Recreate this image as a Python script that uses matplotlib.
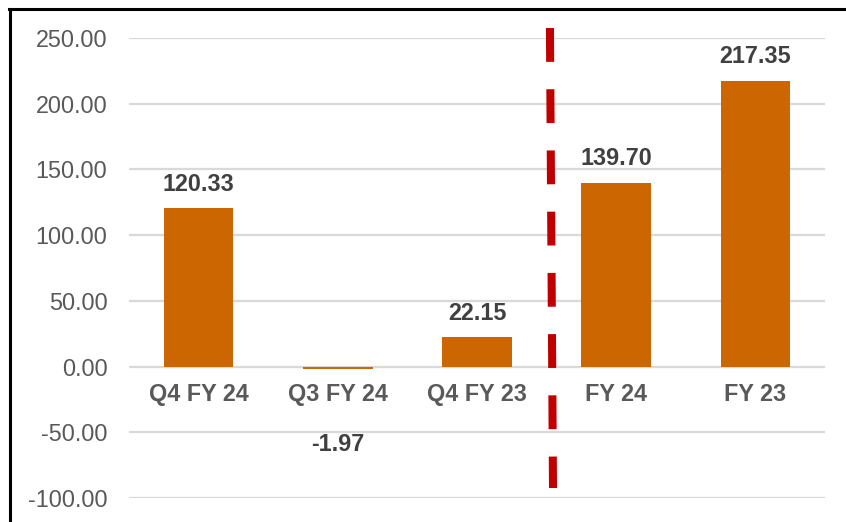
import matplotlib
matplotlib.use("Agg")
import matplotlib.pyplot as plt
from matplotlib.lines import Line2D

categories = ["Q4 FY 24", "Q3 FY 24", "Q4 FY 23", "FY 24", "FY 23"]
values = [120.33, -1.97, 22.15, 139.70, 217.35]
yticks = [-100, -50, 0, 50, 100, 150, 200, 250]

plt.rcParams["font.family"] = ["Liberation Sans", "DejaVu Sans"]
fs = 16.8

fig = plt.figure(figsize=(8.46, 5.22), dpi=100)
ax = fig.add_axes([129 / 846, 24 / 522, 696 / 846, 460 / 522])

x = list(range(len(categories)))
ax.bar(x, values, width=0.5, color="#CC6600", zorder=3)

ax.set_xlim(-0.5, 4.5)
ax.set_ylim(-100, 250)
ax.set_yticks(yticks)
ax.set_yticklabels([f"{v:.2f}" for v in yticks], fontsize=fs, color="#595959")
ax.tick_params(axis="y", length=0, pad=15.5)
ax.set_xticks([])
ax.grid(axis="y", color="#D9D9D9", linewidth=1.6, zorder=0)
for s in ax.spines.values():
    s.set_visible(False)

# category labels sit just below the zero line
for i, c in enumerate(categories):
    ax.annotate(c, (i, 0), xytext=(0, -20), textcoords="offset points",
                ha="center", va="center", fontsize=fs, fontweight="bold",
                color="#595959")

# value labels
for i, v in enumerate(values):
    off = 17.5 if v >= 0 else -54
    ax.annotate(f"{v:.2f}", (i, v), xytext=(0, off), textcoords="offset points",
                ha="center", va="center", fontsize=fs, fontweight="bold",
                color="#404040")

# red dashed separator
ax.plot([2.524, 2.546], [257.6, -92.4], color="#C00000", linewidth=5.8,
        linestyle=(0, (4.2, 3.4)), solid_capstyle="butt", dash_capstyle="butt",
        clip_on=False, zorder=4)

# frame lines (left and top only)
fig.add_artist(Line2D([10 / 846, 10 / 846], [0, 1 - 9 / 522], color="black",
                      linewidth=2.2, transform=fig.transFigure))
fig.add_artist(Line2D([9 / 846, 1], [1 - 9 / 522, 1 - 9 / 522], color="black",
                      linewidth=2.2, transform=fig.transFigure))

fig.savefig("out.png", dpi=100)
